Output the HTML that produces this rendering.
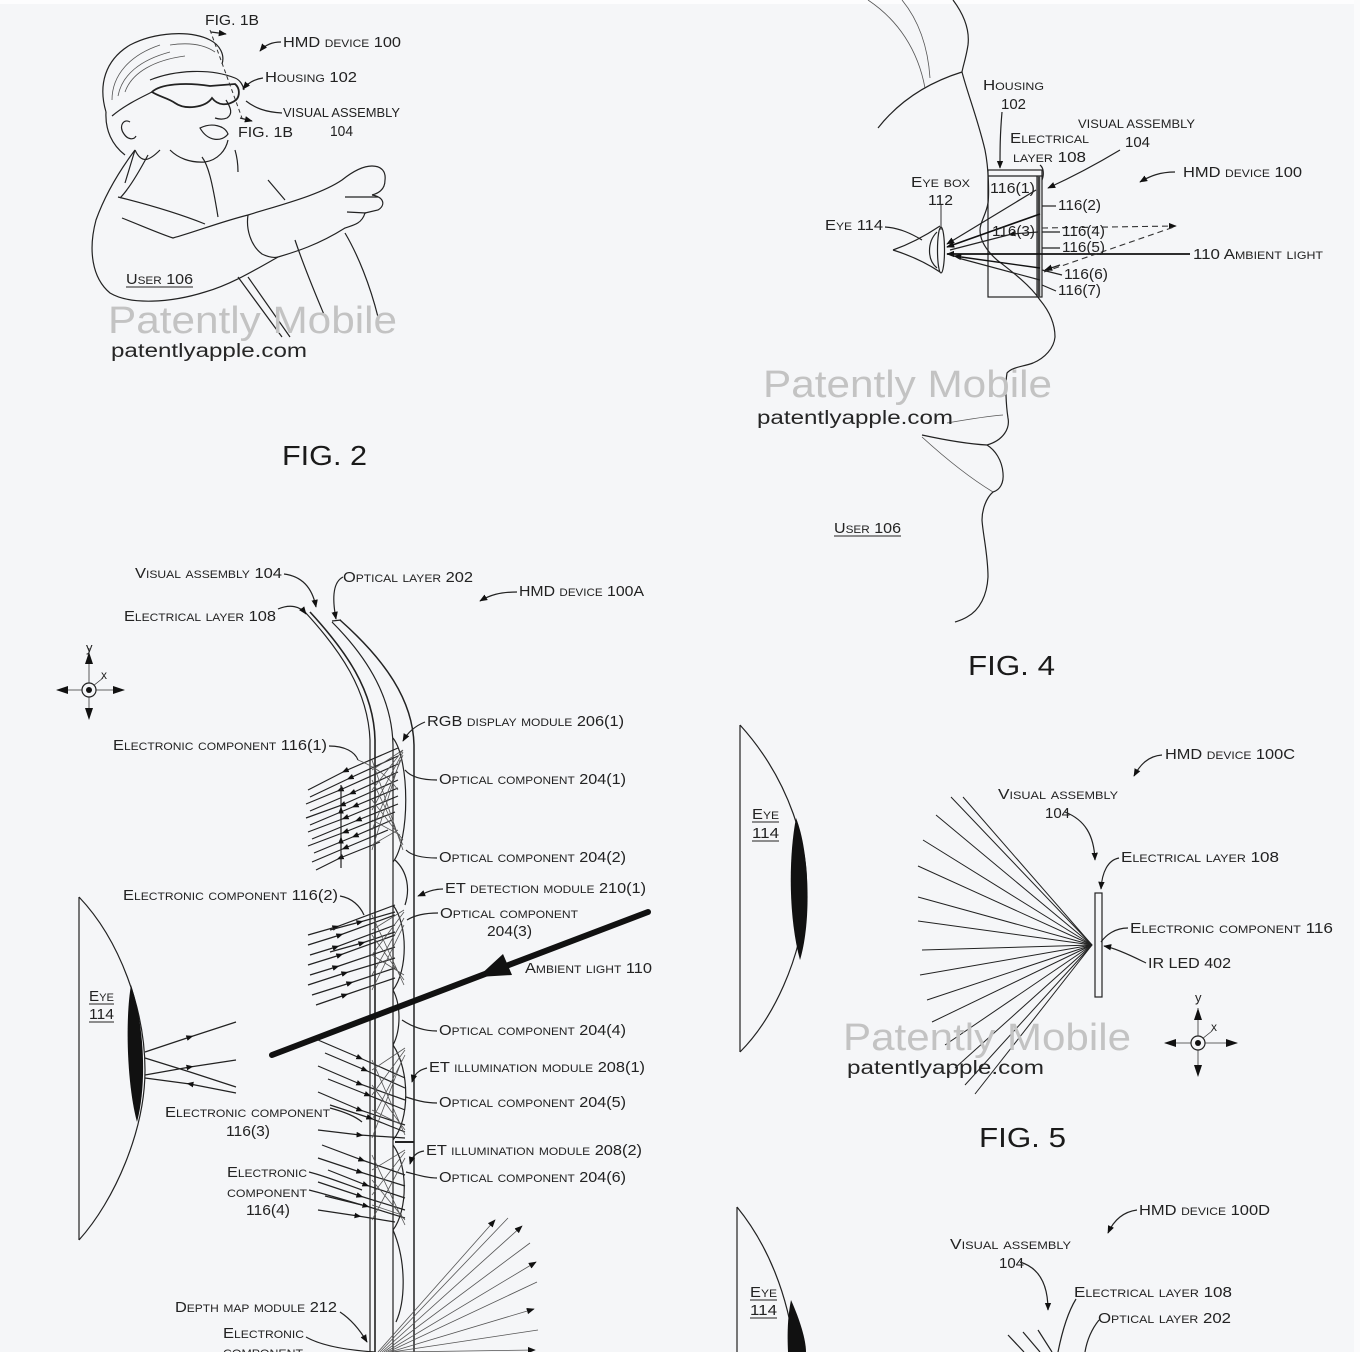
<!DOCTYPE html>
<html><head><meta charset="utf-8"><style>
html,body{margin:0;padding:0;background:#f5f6f8;}
svg{display:block;}
.s{font-family:"Liberation Sans",sans-serif;font-size:15px;font-variant:small-caps;fill:#222;}
.n{font-family:"Liberation Sans",sans-serif;font-size:15px;fill:#222;}
.f{font-family:"Liberation Sans",sans-serif;font-size:28px;fill:#1a1a1a;}
.wm{font-family:"Liberation Sans",sans-serif;font-size:38px;fill:#c3c3c3;}
.wu{font-family:"Liberation Sans",sans-serif;font-size:19px;fill:#262626;}
.l{fill:none;stroke:#222;stroke-width:1.2;}
.g{fill:none;stroke:#555;stroke-width:0.8;}
</style></head><body>
<svg width="1360" height="1352" viewBox="0 0 1360 1352" xmlns="http://www.w3.org/2000/svg">
<defs>
<marker id="a" viewBox="0 0 10 10" refX="9" refY="5" markerWidth="8" markerHeight="8" markerUnits="userSpaceOnUse" orient="auto"><path d="M0,1 L10,5 L0,9 Z" fill="#111"/></marker>
<marker id="m" viewBox="0 0 10 10" refX="5" refY="5" markerWidth="7" markerHeight="7" markerUnits="userSpaceOnUse" orient="auto"><path d="M0,1 L10,5 L0,9 Z" fill="#111"/></marker>
</defs>
<rect x="0" y="0" width="1360" height="1352" fill="#f5f6f8"/>
<rect x="0" y="0" width="1360" height="4" fill="#fdfdfe"/>
<rect x="1354" y="0" width="6" height="1352" fill="#fbfbfc"/>

<!-- ================= TOP LEFT: person (FIG. 2) ================= -->
<g class="l">
<path d="M106,112 C98,85 105,60 130,45 C155,32 190,30 210,40 C220,45 225,55 222,64"/>
<path d="M112,100 C112,75 130,55 160,45" class="g"/>
<path d="M118,96 C122,75 140,60 170,52" class="g"/>
<path d="M125,92 C132,72 155,60 185,56" class="g"/>
<path d="M170,45 C190,42 205,45 215,52" class="g"/>
<path d="M150,80 C175,70 210,68 235,78 C240,80 243,85 244,90"/>
<path d="M152,92 C160,84 185,82 210,86 L235,84 C240,88 240,96 236,100 C228,106 218,106 212,98 C205,108 185,110 175,103 C168,98 160,97 152,92 Z" stroke-width="1.8"/>
<path d="M112,116 C125,105 140,98 152,92"/>
<path d="M106,112 C105,130 112,145 125,155"/>
<path d="M130,122 C124,118 118,126 124,134 C128,140 134,140 136,136"/>
<path d="M226,100 C231,108 233,114 227,118 C222,120 218,119 215,118"/>
<path d="M200,128 C212,122 225,126 228,134 C222,142 208,142 200,128 Z"/>
<path d="M228,140 C226,150 218,160 205,162 C190,163 178,158 170,150"/>
<path d="M160,150 C150,160 142,165 135,150"/>
<!-- arm -->
<path d="M135,150 C120,170 105,195 96,220 C88,250 92,278 110,293 C130,305 170,303 205,292 C230,285 255,270 278,257"/>
<path d="M122,218 C140,225 158,233 173,238 C195,232 220,222 248,215 C280,205 320,195 342,180 C352,172 362,166 372,166 C382,166 386,172 385,180 C385,188 380,193 372,195"/>
<path d="M118,197 C150,205 180,214 205,224"/>
<path d="M248,215 C246,228 250,245 262,254 C268,257 274,258 278,257"/>
<path d="M278,257 C295,252 318,245 345,228 C355,225 362,223 365,213"/>
<path d="M345,197 L378,197"/>
<path d="M347,212 L366,213"/>
<path d="M372,195 C384,197 386,205 378,210 L365,213"/>
<path d="M135,150 L125,183"/>
<path d="M148,155 C140,170 130,188 120,198"/>
<path d="M202,157 C208,165 212,180 218,217"/>
<path d="M235,150 C238,160 238,168 238,172"/>
<path d="M268,180 L285,200"/>
<path d="M345,233 C358,255 370,285 378,317"/>
<path d="M295,240 C305,270 318,300 325,317"/>
<path d="M238,277 L282,337"/>
<path d="M248,277 L290,337"/>
</g>
<path d="M210,30 L242,118" fill="none" stroke="#333" stroke-width="1" stroke-dasharray="4,3"/>
<path d="M211,32 L226,34" class="l" marker-end="url(#a)"/>
<path d="M240,118 L252,121" class="l" marker-end="url(#a)"/>
<path d="M281,42 C272,42 265,45 260,51" class="l" marker-end="url(#a)"/>
<path d="M263,78 C255,79 248,83 243,89" class="l" marker-end="url(#a)"/>
<path d="M282,113 C265,112 255,108 246,101" class="l"/>
<text x="205" y="25" class="n" textLength="54" lengthAdjust="spacingAndGlyphs">FIG. 1B</text>
<text x="283" y="47" class="s" textLength="118" lengthAdjust="spacingAndGlyphs">HMD device 100</text>
<text x="265" y="82" class="s" textLength="92" lengthAdjust="spacingAndGlyphs">Housing 102</text>
<text x="283" y="117" class="n" style="font-size:13px" textLength="117" lengthAdjust="spacingAndGlyphs">VISUAL ASSEMBLY</text>
<text x="238" y="137" class="n" textLength="55" lengthAdjust="spacingAndGlyphs">FIG. 1B</text>
<text x="330" y="136" class="n" textLength="23" lengthAdjust="spacingAndGlyphs">104</text>
<text x="126" y="284" class="s" textLength="67" lengthAdjust="spacingAndGlyphs">User 106</text>
<line x1="126" y1="287" x2="193" y2="287" stroke="#222" stroke-width="1"/>
<text x="108" y="333" class="wm" textLength="289" lengthAdjust="spacingAndGlyphs">Patently Mobile</text>
<text x="111" y="357" class="wu" textLength="196" lengthAdjust="spacingAndGlyphs">patentlyapple.com</text>
<text x="282" y="465" class="f" textLength="85" lengthAdjust="spacingAndGlyphs">FIG. 2</text>

<!-- ================= FIG. 4 ================= -->
<g class="l">
<path d="M868,0 C898,20 918,50 925,88" class="g"/>
<path d="M902,0 C920,22 928,48 930,78" class="g"/>
<path d="M962,72 C930,82 900,100 878,128"/>
<path d="M953,0 C962,12 970,28 968,45 C966,58 963,66 962,72 C968,95 978,120 985,150 C989,170 989,195 988,203 C986,215 980,222 980,230 C980,242 988,252 997,260 C1010,270 1030,285 1040,300 C1050,312 1055,325 1055,337 C1054,348 1045,358 1033,363 C1022,367 1012,367 1007,373 C1005,385 1006,405 1008,418 C1010,428 1004,440 987,445"/>
<path d="M922,435 C945,440 968,444 987,445"/>
<path d="M947,423 C970,419 990,416 1003,415" class="g"/>
<path d="M987,445 C995,450 1002,460 1003,473 C1004,483 1000,490 993,492"/>
<path d="M922,437 C945,458 970,478 993,492" class="g"/>
<path d="M993,492 C986,498 982,510 982,520 C983,535 988,555 988,577 C987,595 980,610 967,617 C962,620 958,621 955,622"/>
<rect x="988" y="170" width="54" height="127" fill="none"/>
<line x1="988" y1="176" x2="1042" y2="176"/>
<line x1="1037" y1="176" x2="1037" y2="297"/>
</g>
<line x1="1039" y1="176" x2="1039" y2="297" stroke="#444" stroke-width="2.5"/>
<!-- eye -->
<g class="l">
<path d="M893,250 C910,244 925,236 940,226"/>
<path d="M893,250 C912,256 928,264 940,272"/>
<path d="M937,232 C927,242 927,260 937,268"/>
<ellipse cx="941" cy="250" rx="3.5" ry="23"/>
</g>
<line x1="941" y1="205" x2="941" y2="230" stroke="#333" stroke-width="1"/>
<path d="M885,227 C900,228 912,234 922,240" class="l"/>
<!-- rays -->
<line x1="1036" y1="190" x2="947" y2="244" class="l" marker-end="url(#a)"/>
<line x1="1040" y1="214" x2="947" y2="247" stroke="#111" stroke-width="1.6" marker-end="url(#a)"/>
<path d="M1038,232 L1012,234 L950,250" class="l" marker-mid="url(#m)"/>
<line x1="1190" y1="254" x2="947" y2="254" stroke="#111" stroke-width="1.8" marker-end="url(#a)"/>
<line x1="1040" y1="268" x2="954" y2="256" stroke="#111" stroke-width="1.4" marker-end="url(#a)"/>
<line x1="1040" y1="280" x2="958" y2="258" class="l"/>
<line x1="1042" y1="228" x2="1176" y2="226" stroke="#333" stroke-width="1.1" stroke-dasharray="6,4" marker-end="url(#a)"/>
<line x1="1044" y1="272" x2="1174" y2="227" stroke="#333" stroke-width="1.1" stroke-dasharray="6,4"/>
<line x1="1060" y1="265" x2="1045" y2="270" class="l" marker-end="url(#a)"/>
<path d="M1002,112 C1000,135 1000,150 1000,168" class="l" marker-end="url(#a)"/>
<path d="M1120,150 C1095,165 1070,178 1048,188" class="l" marker-end="url(#a)"/>
<path d="M1040,165 C1044,168 1044,175 1042,180" class="l"/>
<path d="M1175,172 C1160,172 1150,176 1140,182" class="l" marker-end="url(#a)"/>
<line x1="1042" y1="206" x2="1056" y2="206" class="l"/>
<line x1="1042" y1="232" x2="1060" y2="232" class="l"/>
<line x1="1042" y1="248" x2="1060" y2="248" class="l"/>
<line x1="1042" y1="270" x2="1062" y2="275" class="l"/>
<line x1="1042" y1="285" x2="1056" y2="291" class="l"/>
<text x="983" y="90" class="s" textLength="61" lengthAdjust="spacingAndGlyphs">Housing</text>
<text x="1001" y="109" class="n" textLength="25" lengthAdjust="spacingAndGlyphs">102</text>
<text x="1078" y="128" class="n" style="font-size:12px" textLength="117" lengthAdjust="spacingAndGlyphs">VISUAL ASSEMBLY</text>
<text x="1125" y="147" class="n" textLength="25" lengthAdjust="spacingAndGlyphs">104</text>
<text x="1010" y="143" class="s" textLength="79" lengthAdjust="spacingAndGlyphs">Electrical</text>
<text x="1013" y="162" class="s" textLength="73" lengthAdjust="spacingAndGlyphs">layer 108</text>
<text x="1183" y="177" class="s" textLength="119" lengthAdjust="spacingAndGlyphs">HMD device 100</text>
<text x="911" y="187" class="s" textLength="59" lengthAdjust="spacingAndGlyphs">Eye box</text>
<text x="928" y="205" class="n" textLength="25" lengthAdjust="spacingAndGlyphs">112</text>
<text x="825" y="230" class="s" textLength="58" lengthAdjust="spacingAndGlyphs">Eye 114</text>
<text x="990" y="193" class="n" textLength="45" lengthAdjust="spacingAndGlyphs">116(1)</text>
<text x="1058" y="210" class="n" textLength="43" lengthAdjust="spacingAndGlyphs">116(2)</text>
<text x="992" y="236" class="n" textLength="43" lengthAdjust="spacingAndGlyphs">116(3)</text>
<text x="1062" y="236" class="n" textLength="43" lengthAdjust="spacingAndGlyphs">116(4)</text>
<text x="1062" y="252" class="n" textLength="43" lengthAdjust="spacingAndGlyphs">116(5)</text>
<text x="1064" y="279" class="n" textLength="44" lengthAdjust="spacingAndGlyphs">116(6)</text>
<text x="1058" y="295" class="n" textLength="43" lengthAdjust="spacingAndGlyphs">116(7)</text>
<text x="1193" y="259" class="s" textLength="130" lengthAdjust="spacingAndGlyphs">110 Ambient light</text>
<text x="763" y="397" class="wm" textLength="289" lengthAdjust="spacingAndGlyphs">Patently Mobile</text>
<text x="757" y="424" class="wu" textLength="196" lengthAdjust="spacingAndGlyphs">patentlyapple.com</text>
<text x="834" y="533" class="s" textLength="67" lengthAdjust="spacingAndGlyphs">User 106</text>
<line x1="834" y1="536" x2="901" y2="536" stroke="#222" stroke-width="1"/>
<text x="968" y="675" class="f" textLength="87" lengthAdjust="spacingAndGlyphs">FIG. 4</text>

<!-- ================= FIG. 3 (bottom left) ================= -->
<g class="l">
<path d="M305,612 C340,650 368,690 370,740 L370,1352"/>
<path d="M310,612 C345,650 374,690 375,740 L375,1352" stroke-width="1.6"/>
<path d="M332,622 C370,660 392,700 393,745 L393,1352"/>
<path d="M340,620 C385,660 413,700 414,745 L414,1352" stroke-width="1.5"/>
<line x1="332" y1="621" x2="341" y2="620"/>
<line x1="395" y1="1142" x2="414" y2="1142" stroke-width="2"/>
<path d="M393,738 C410,760 410,840 393,862"/>
<path d="M395,860 C408,872 410,890 405,905"/>
<path d="M393,905 C408,925 408,970 393,990"/>
<path d="M393,990 C401,1005 401,1030 393,1045"/>
<path d="M393,1045 C410,1070 410,1120 393,1140"/>
<path d="M393,1145 C408,1165 408,1210 393,1230"/>
<path d="M393,1230 C406,1260 406,1300 396,1322"/>
</g>
<g class="l" stroke-width="1">
<path d="M398,748 L345,771 L308,790" marker-mid="url(#m)"/>
<path d="M398,756 L350,778 L310,797" marker-mid="url(#m)"/>
<path d="M398,764 L340,790 L306,804" marker-mid="url(#m)"/>
<path d="M398,772 L352,793 L310,811" marker-mid="url(#m)"/>
<path d="M398,780 L342,805 L306,818" marker-mid="url(#m)"/>
<path d="M398,788 L355,806 L310,825" marker-mid="url(#m)"/>
<path d="M398,796 L345,818 L308,832" marker-mid="url(#m)"/>
<path d="M398,804 L358,820 L312,839" marker-mid="url(#m)"/>
<path d="M395,812 L345,832 L308,846" marker-mid="url(#m)"/>
<path d="M392,820 L355,836 L314,853" marker-mid="url(#m)"/>
<path d="M388,830 L345,848 L312,862" marker-mid="url(#m)"/>
<path d="M380,842 L340,858 L316,870" marker-mid="url(#m)"/>
<path d="M341,868 L341,840 L341,810 L341,785" marker-mid="url(#m)"/>
</g>
<g class="g">
<path d="M403,750 L372,770 M403,750 L372,790 M403,752 L372,810 M403,755 L372,830 M400,760 L372,850"/>
<path d="M403,850 L372,760 M403,845 L372,780 M403,840 L372,800 M400,835 L372,820 M398,830 L372,845"/>
<path d="M358,760 C370,765 385,772 398,790"/>
</g>
<g class="l" stroke-width="1">
<path d="M308,935 L336,927 L395,905" marker-mid="url(#m)"/>
<path d="M308,945 L340,935 L395,915" marker-mid="url(#m)"/>
<path d="M310,955 L336,947 L395,925" marker-mid="url(#m)"/>
<path d="M308,965 L340,955 L395,935" marker-mid="url(#m)"/>
<path d="M310,975 L336,967 L395,947" marker-mid="url(#m)"/>
<path d="M308,985 L345,973 L395,958" marker-mid="url(#m)"/>
<path d="M312,995 L350,983 L395,968" marker-mid="url(#m)"/>
<path d="M316,1005 L345,995 L395,978" marker-mid="url(#m)"/>
<path d="M330,930 L360,922 L395,912" marker-mid="url(#m)"/>
<path d="M330,952 L362,943 L395,932" marker-mid="url(#m)"/>
</g>
<g class="g">
<path d="M404,910 L372,930 M404,912 L372,955 M404,918 L372,975 M404,925 L372,990"/>
<path d="M404,985 L372,915 M404,980 L372,935 M404,975 L372,955"/>
</g>
<line x1="648" y1="912" x2="272" y2="1055" stroke="#111" stroke-width="6" stroke-linecap="round"/>
<path d="M478,977 L512,975 L503,954 Z" fill="#111"/>
<g class="l" stroke-width="1">
<path d="M318,1040 L360,1058 L405,1078" marker-mid="url(#m)"/>
<path d="M325,1053 L365,1070 L405,1088" marker-mid="url(#m)"/>
<path d="M318,1066 L360,1084 L405,1100" marker-mid="url(#m)"/>
<path d="M328,1079 L368,1095 L405,1110" marker-mid="url(#m)"/>
<path d="M318,1092 L360,1110 L405,1125" marker-mid="url(#m)"/>
<path d="M330,1105 L370,1118 L405,1132" marker-mid="url(#m)"/>
<path d="M318,1130 L360,1135 L405,1138" marker-mid="url(#m)"/>
<path d="M322,1145 L362,1160 L405,1175" marker-mid="url(#m)"/>
<path d="M318,1158 L360,1172 L405,1186" marker-mid="url(#m)"/>
<path d="M328,1170 L366,1185 L405,1198" marker-mid="url(#m)"/>
<path d="M318,1182 L360,1196 L405,1210" marker-mid="url(#m)"/>
<path d="M325,1196 L366,1206 L405,1218" marker-mid="url(#m)"/>
<path d="M318,1210 L358,1216 L395,1222" marker-mid="url(#m)"/>
</g>
<g class="g">
<path d="M405,1048 L372,1070 M405,1050 L372,1095 M405,1055 L372,1120 M402,1060 L372,1138"/>
<path d="M405,1135 L372,1060 M405,1130 L372,1085 M402,1125 L372,1110"/>
<path d="M405,1150 L372,1170 M405,1152 L372,1195 M405,1158 L372,1220"/>
<path d="M405,1225 L372,1155 M405,1220 L372,1180 M402,1215 L372,1205"/>
</g>
<g class="l">
<line x1="79" y1="897" x2="79" y2="1240"/>
<path d="M79,897 C120,940 145,1010 145,1070 C145,1130 115,1200 79,1240"/>
</g>
<path d="M131,985 C143,1020 148,1080 137,1122 C127,1085 125,1020 131,985 Z" fill="#111"/>
<g class="l" stroke-width="1">
<path d="M145,1052 L190,1037 L236,1022" marker-mid="url(#m)"/>
<path d="M145,1058 L190,1072 L236,1087"/>
<path d="M145,1075 L190,1067 L236,1060" marker-mid="url(#m)"/>
<path d="M236,1093 L190,1084 L145,1078" marker-mid="url(#m)"/>
</g>
<g class="g" stroke="#444" stroke-width="0.9">
<line x1="378" y1="1352" x2="495" y2="1220" marker-end="url(#a)"/>
<line x1="380" y1="1352" x2="508" y2="1218"/>
<line x1="382" y1="1352" x2="522" y2="1226" marker-end="url(#a)"/>
<line x1="384" y1="1352" x2="530" y2="1243"/>
<line x1="386" y1="1352" x2="536" y2="1262" marker-end="url(#a)"/>
<line x1="388" y1="1352" x2="537" y2="1282"/>
<line x1="390" y1="1352" x2="534" y2="1309" marker-end="url(#a)"/>
<line x1="392" y1="1352" x2="538" y2="1330"/>
<line x1="394" y1="1352" x2="535" y2="1350" marker-end="url(#a)"/>
</g>
<g stroke="#333" stroke-width="0.8" fill="none">
<line x1="89" y1="648" x2="89" y2="718"/>
<line x1="57" y1="690" x2="124" y2="690"/>
<path d="M93,686 L103,678"/>
</g>
<circle cx="89" cy="690" r="7" fill="#f5f6f8" stroke="#222" stroke-width="1.2"/>
<circle cx="89" cy="690" r="3" fill="#111"/>
<path d="M89,652 L85,664 L93,664 Z M89,720 L85,708 L93,708 Z M56,690 L68,686 L68,694 Z M125,690 L113,686 L113,694 Z" fill="#111"/>
<text x="86" y="652" class="n" style="font-size:13px">y</text>
<text x="101" y="679" class="n" style="font-size:12px">x</text>
<g class="l" stroke-width="1">
<path d="M284,574 C300,576 312,586 316,607" marker-end="url(#a)"/>
<path d="M343,577 C333,582 332,598 336,619" marker-end="url(#a)"/>
<path d="M517,592 C500,592 490,595 480,601" marker-end="url(#a)"/>
<path d="M278,609 C290,604 300,606 306,614" marker-end="url(#a)"/>
<path d="M425,722 C415,726 408,732 403,741" marker-end="url(#a)"/>
<path d="M329,746 C345,746 355,752 358,760"/>
<path d="M437,780 C420,780 410,776 405,770"/>
<path d="M437,858 C425,858 412,856 406,850"/>
<path d="M443,889 C432,889 425,893 418,896" marker-end="url(#a)"/>
<path d="M340,896 C352,898 360,906 364,915"/>
<path d="M438,913 C425,913 415,915 407,920"/>
<path d="M437,1031 C425,1031 414,1028 402,1020"/>
<path d="M427,1068 C418,1070 414,1075 412,1082" marker-end="url(#a)"/>
<path d="M330,1108 C345,1112 355,1116 362,1122"/>
<path d="M437,1103 C425,1103 415,1100 406,1097"/>
<path d="M424,1151 C416,1152 412,1157 410,1164" marker-end="url(#a)"/>
<path d="M437,1178 C425,1178 415,1174 406,1172"/>
<path d="M309,1172 C325,1176 345,1184 362,1190"/>
<path d="M309,1190 C325,1194 345,1200 362,1205"/>
<path d="M340,1312 C352,1320 360,1330 367,1342" marker-end="url(#a)"/>
<path d="M306,1337 C320,1345 345,1350 375,1352"/>
</g>
<text x="135" y="578" class="s" textLength="147" lengthAdjust="spacingAndGlyphs">Visual assembly 104</text>
<text x="343" y="582" class="s" textLength="130" lengthAdjust="spacingAndGlyphs">Optical layer 202</text>
<text x="519" y="596" class="s" textLength="125" lengthAdjust="spacingAndGlyphs">HMD device 100A</text>
<text x="124" y="621" class="s" textLength="152" lengthAdjust="spacingAndGlyphs">Electrical layer 108</text>
<text x="427" y="726" class="s" textLength="197" lengthAdjust="spacingAndGlyphs">RGB display module 206(1)</text>
<text x="113" y="750" class="s" textLength="214" lengthAdjust="spacingAndGlyphs">Electronic component 116(1)</text>
<text x="439" y="784" class="s" textLength="187" lengthAdjust="spacingAndGlyphs">Optical component 204(1)</text>
<text x="439" y="862" class="s" textLength="187" lengthAdjust="spacingAndGlyphs">Optical component 204(2)</text>
<text x="445" y="893" class="s" textLength="201" lengthAdjust="spacingAndGlyphs">ET detection module 210(1)</text>
<text x="123" y="900" class="s" textLength="215" lengthAdjust="spacingAndGlyphs">Electronic component 116(2)</text>
<text x="440" y="918" class="s" textLength="138" lengthAdjust="spacingAndGlyphs">Optical component</text>
<text x="487" y="936" class="n" textLength="45" lengthAdjust="spacingAndGlyphs">204(3)</text>
<text x="525" y="973" class="s" textLength="127" lengthAdjust="spacingAndGlyphs">Ambient light 110</text>
<text x="89" y="1001" class="s" textLength="25" lengthAdjust="spacingAndGlyphs">Eye</text>
<line x1="89" y1="1004" x2="114" y2="1004" stroke="#222" stroke-width="1"/>
<text x="89" y="1019" class="n" textLength="25" lengthAdjust="spacingAndGlyphs">114</text>
<line x1="89" y1="1022" x2="114" y2="1022" stroke="#222" stroke-width="1"/>
<text x="439" y="1035" class="s" textLength="187" lengthAdjust="spacingAndGlyphs">Optical component 204(4)</text>
<text x="429" y="1072" class="s" textLength="216" lengthAdjust="spacingAndGlyphs">ET illumination module 208(1)</text>
<text x="439" y="1107" class="s" textLength="187" lengthAdjust="spacingAndGlyphs">Optical component 204(5)</text>
<text x="165" y="1117" class="s" textLength="165" lengthAdjust="spacingAndGlyphs">Electronic component</text>
<text x="226" y="1136" class="n" textLength="44" lengthAdjust="spacingAndGlyphs">116(3)</text>
<text x="426" y="1155" class="s" textLength="216" lengthAdjust="spacingAndGlyphs">ET illumination module 208(2)</text>
<text x="227" y="1177" class="s" textLength="80" lengthAdjust="spacingAndGlyphs">Electronic</text>
<text x="439" y="1182" class="s" textLength="187" lengthAdjust="spacingAndGlyphs">Optical component 204(6)</text>
<text x="227" y="1197" class="s" textLength="80" lengthAdjust="spacingAndGlyphs">component</text>
<text x="246" y="1215" class="n" textLength="44" lengthAdjust="spacingAndGlyphs">116(4)</text>
<text x="175" y="1312" class="s" textLength="162" lengthAdjust="spacingAndGlyphs">Depth map module 212</text>
<text x="223" y="1338" class="s" textLength="81" lengthAdjust="spacingAndGlyphs">Electronic</text>
<text x="223" y="1357" class="s" textLength="80" lengthAdjust="spacingAndGlyphs">component</text>

<!-- ================= FIG. 5 ================= -->
<g class="l">
<line x1="740" y1="725" x2="740" y2="1052"/>
<path d="M740,725 C790,780 810,850 806,895 C802,960 772,1020 740,1052"/>
<rect x="1095" y="893" width="7" height="104"/>
</g>
<path d="M796,818 C809,850 812,920 800,960 C789,920 788,860 796,818 Z" fill="#111"/>
<g stroke="#222" stroke-width="1" fill="none">
<line x1="1092" y1="945" x2="951" y2="797"/>
<line x1="1092" y1="945" x2="963" y2="797"/>
<line x1="1092" y1="945" x2="936" y2="815"/>
<line x1="1092" y1="945" x2="923" y2="840"/>
<line x1="1092" y1="945" x2="918" y2="866"/>
<line x1="1092" y1="945" x2="918" y2="897"/>
<line x1="1092" y1="945" x2="918" y2="921"/>
<line x1="1092" y1="945" x2="922" y2="950"/>
<line x1="1092" y1="945" x2="920" y2="975"/>
<line x1="1092" y1="945" x2="927" y2="1000"/>
<line x1="1092" y1="945" x2="932" y2="1022"/>
<line x1="1092" y1="945" x2="945" y2="1045"/>
<line x1="1092" y1="945" x2="955" y2="1068"/>
<line x1="1092" y1="945" x2="965" y2="1085"/>
<line x1="1092" y1="945" x2="975" y2="1094"/>
</g>
<g class="l" stroke-width="1">
<path d="M1162,755 C1148,756 1140,765 1134,776" marker-end="url(#a)"/>
<path d="M1065,812 C1085,820 1094,835 1095,860" marker-end="url(#a)"/>
<path d="M1119,858 C1108,860 1102,872 1101,889" marker-end="url(#a)"/>
<path d="M1128,928 C1115,928 1106,935 1101,942"/>
<path d="M1146,963 C1130,955 1115,948 1104,946" marker-end="url(#a)"/>
</g>
<g stroke="#333" stroke-width="0.8" fill="none">
<line x1="1198" y1="1008" x2="1198" y2="1075"/>
<line x1="1165" y1="1043" x2="1237" y2="1043"/>
<path d="M1202,1039 L1212,1031"/>
</g>
<circle cx="1198" cy="1043" r="7" fill="#f5f6f8" stroke="#222" stroke-width="1.2"/>
<circle cx="1198" cy="1043" r="3" fill="#111"/>
<path d="M1198,1008 L1194,1020 L1202,1020 Z M1198,1077 L1194,1065 L1202,1065 Z M1164,1043 L1176,1039 L1176,1047 Z M1238,1043 L1226,1039 L1226,1047 Z" fill="#111"/>
<text x="1195" y="1002" class="n" style="font-size:13px">y</text>
<text x="1211" y="1031" class="n" style="font-size:12px">x</text>
<text x="752" y="819" class="s" textLength="27" lengthAdjust="spacingAndGlyphs">Eye</text>
<line x1="752" y1="822" x2="779" y2="822" stroke="#222" stroke-width="1"/>
<text x="752" y="838" class="n" textLength="27" lengthAdjust="spacingAndGlyphs">114</text>
<line x1="752" y1="841" x2="779" y2="841" stroke="#222" stroke-width="1"/>
<text x="1165" y="759" class="s" textLength="130" lengthAdjust="spacingAndGlyphs">HMD device 100C</text>
<text x="998" y="799" class="s" textLength="120" lengthAdjust="spacingAndGlyphs">Visual assembly</text>
<text x="1045" y="818" class="n" textLength="25" lengthAdjust="spacingAndGlyphs">104</text>
<text x="1121" y="862" class="s" textLength="158" lengthAdjust="spacingAndGlyphs">Electrical layer 108</text>
<text x="1130" y="933" class="s" textLength="203" lengthAdjust="spacingAndGlyphs">Electronic component 116</text>
<text x="1148" y="968" class="n" textLength="83" lengthAdjust="spacingAndGlyphs">IR LED 402</text>
<text x="843" y="1050" class="wm" textLength="288" lengthAdjust="spacingAndGlyphs">Patently Mobile</text>
<text x="847" y="1074" class="wu" textLength="197" lengthAdjust="spacingAndGlyphs">patentlyapple.com</text>
<text x="979" y="1147" class="f" textLength="87" lengthAdjust="spacingAndGlyphs">FIG. 5</text>

<!-- ================= FIG. 6 partial ================= -->
<g class="l">
<line x1="737" y1="1207" x2="737" y2="1352"/>
<path d="M737,1207 C768,1245 788,1295 795,1352"/>
</g>
<path d="M791,1300 C800,1320 806,1340 806,1352 L788,1352 C787,1330 788,1315 791,1300 Z" fill="#111"/>
<g class="l" stroke-width="1">
<path d="M1137,1210 C1122,1212 1113,1222 1108,1233" marker-end="url(#a)"/>
<path d="M1020,1262 C1040,1268 1048,1285 1048,1310" marker-end="url(#a)"/>
<path d="M1076,1299 C1068,1312 1062,1332 1058,1352"/>
<path d="M1099,1320 C1091,1330 1087,1340 1085,1352"/>
<line x1="1008" y1="1335" x2="1024" y2="1352"/>
<line x1="1023" y1="1332" x2="1040" y2="1352"/>
<line x1="1038" y1="1330" x2="1052" y2="1352"/>
</g>
<text x="750" y="1297" class="s" textLength="27" lengthAdjust="spacingAndGlyphs">Eye</text>
<line x1="750" y1="1300" x2="777" y2="1300" stroke="#222" stroke-width="1"/>
<text x="750" y="1315" class="n" textLength="27" lengthAdjust="spacingAndGlyphs">114</text>
<line x1="750" y1="1318" x2="777" y2="1318" stroke="#222" stroke-width="1"/>
<text x="1139" y="1215" class="s" textLength="131" lengthAdjust="spacingAndGlyphs">HMD device 100D</text>
<text x="950" y="1249" class="s" textLength="121" lengthAdjust="spacingAndGlyphs">Visual assembly</text>
<text x="999" y="1268" class="n" textLength="25" lengthAdjust="spacingAndGlyphs">104</text>
<text x="1074" y="1297" class="s" textLength="158" lengthAdjust="spacingAndGlyphs">Electrical layer 108</text>
<text x="1098" y="1323" class="s" textLength="133" lengthAdjust="spacingAndGlyphs">Optical layer 202</text>
</svg>
</body></html>
